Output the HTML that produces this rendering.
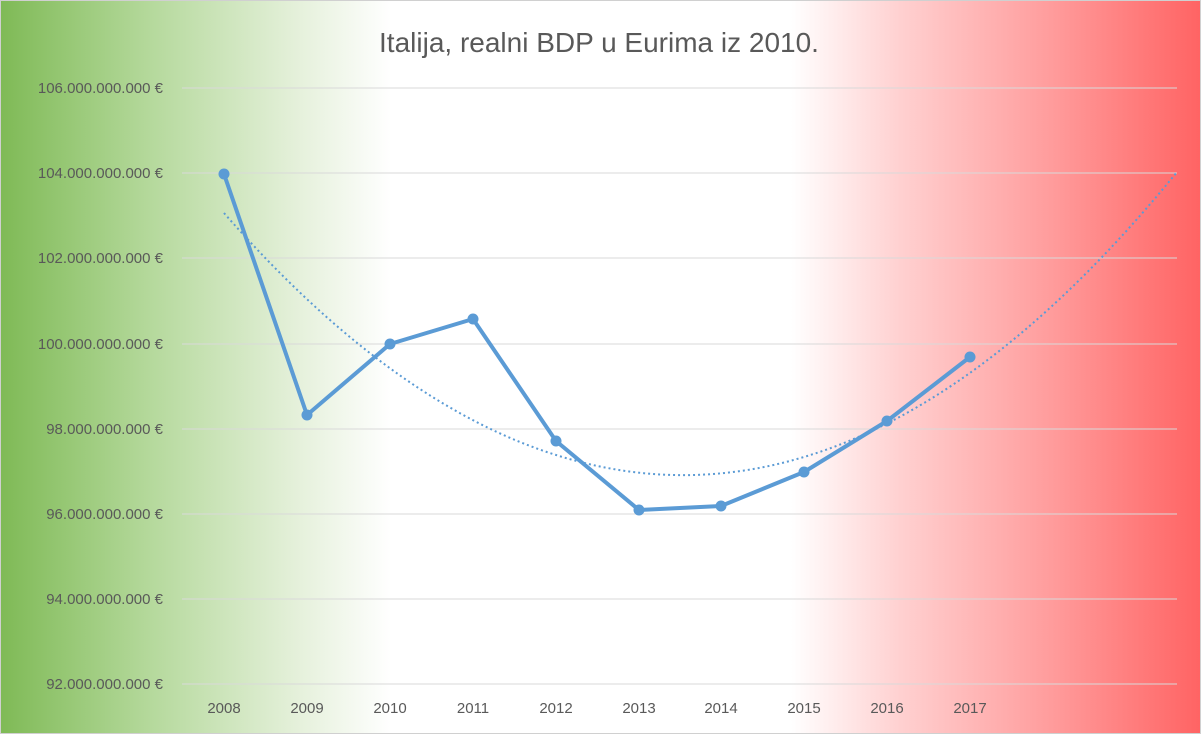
<!DOCTYPE html>
<html><head><meta charset="utf-8"><style>
html,body{margin:0;padding:0}
body{width:1201px;height:734px;overflow:hidden;font-family:"Liberation Sans",sans-serif}
.bg{position:absolute;left:0;top:0;width:1199px;height:732px;border:1px solid #d0d0d0;
background:linear-gradient(to right,#7fba56 0px,#b5d99c 150px,#e6f1dc 300px,#fff 390px,#fff 790px,#ffd0d0 900px,#ff9c9c 1050px,#ff6363 1201px);}
</style></head><body>
<div class="bg"></div>
<svg width="1201" height="734" style="position:absolute;left:0;top:0" font-family="Liberation Sans, sans-serif">
<text x="599" y="52" text-anchor="middle" font-size="28" fill="#595959">Italija, realni BDP u Eurima iz 2010.</text>
<g stroke="#d9d9d9" stroke-width="1">
<line x1="182" x2="1177" y1="88" y2="88"/><line x1="182" x2="1177" y1="173" y2="173"/>
<line x1="182" x2="1177" y1="258" y2="258"/><line x1="182" x2="1177" y1="344" y2="344"/>
<line x1="182" x2="1177" y1="429" y2="429"/><line x1="182" x2="1177" y1="514" y2="514"/>
<line x1="182" x2="1177" y1="599" y2="599"/><line x1="182" x2="1177" y1="684" y2="684"/>
</g>
<g font-size="15" fill="#595959" text-anchor="end">
<text x="163" y="93">106.000.000.000 €</text><text x="163" y="178">104.000.000.000 €</text>
<text x="163" y="263">102.000.000.000 €</text><text x="163" y="349">100.000.000.000 €</text>
<text x="163" y="434">98.000.000.000 €</text><text x="163" y="519">96.000.000.000 €</text>
<text x="163" y="604">94.000.000.000 €</text><text x="163" y="689">92.000.000.000 €</text>
</g>
<g font-size="15" fill="#595959" text-anchor="middle">
<text x="224" y="713">2008</text><text x="307" y="713">2009</text><text x="390" y="713">2010</text>
<text x="473" y="713">2011</text><text x="556" y="713">2012</text><text x="639" y="713">2013</text>
<text x="721" y="713">2014</text><text x="804" y="713">2015</text><text x="887" y="713">2016</text>
<text x="970" y="713">2017</text>
</g>
<path d="M224,213 Q700.5,757 1177,172" fill="none" stroke="#5b9bd5" stroke-width="2" stroke-dasharray="2,3"/>
<polyline points="224,174 307,415 390,344 473,319 556,441 639,510 721,506 804,472 887,421 970,357" fill="none" stroke="#5b9bd5" stroke-width="4" stroke-linejoin="round"/>
<g fill="#5b9bd5">
<circle cx="224" cy="174" r="5.5"/><circle cx="307" cy="415" r="5.5"/><circle cx="390" cy="344" r="5.5"/>
<circle cx="473" cy="319" r="5.5"/><circle cx="556" cy="441" r="5.5"/><circle cx="639" cy="510" r="5.5"/>
<circle cx="721" cy="506" r="5.5"/><circle cx="804" cy="472" r="5.5"/><circle cx="887" cy="421" r="5.5"/>
<circle cx="970" cy="357" r="5.5"/>
</g>
</svg>
</body></html>
